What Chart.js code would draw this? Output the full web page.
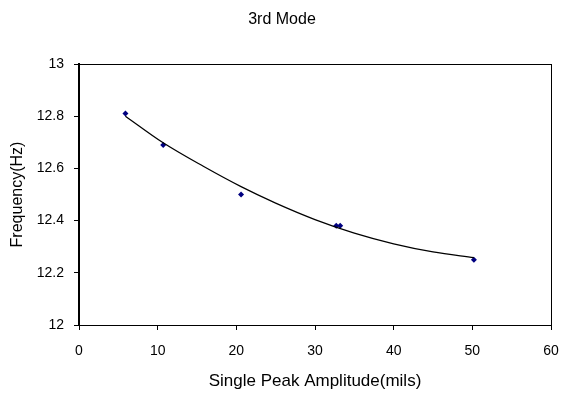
<!DOCTYPE html>
<html>
<head>
<meta charset="utf-8">
<script src="https://cdn.jsdelivr.net/npm/chart.js@4/dist/chart.umd.min.js"></script>
<style>
  html, body { margin: 0; padding: 0; background: #fff; }
  #wrap { width: 564px; height: 395px; }
</style>
</head>
<body>
<div id="wrap"><canvas id="grafico"></canvas></div>
<script>
// measured points
const amplitude = [5.9, 10.7, 20.6, 32.7, 33.2, 50.2];
const frequency = [12.81, 12.69, 12.50, 12.38, 12.38, 12.25];

// trend line
const trendX = [5.9, 10.7, 15.8, 20.6, 25, 30, 35, 40, 45, 50.2];
const trendY = [12.80, 12.698, 12.608, 12.53, 12.467, 12.404, 12.352, 12.311, 12.28, 12.258];

const fonte = "'Liberation Sans', Arial, sans-serif";

new Chart(document.getElementById("grafico"), {
    type: "scatter",
    data: {
        datasets: [
            {
                label: "Trend",
                type: "line",
                data: trendX.map((x, i) => ({ x: x, y: trendY[i] })),
                borderColor: "#000",
                borderWidth: 1.25,
                pointRadius: 0,
                cubicInterpolationMode: "monotone",
                fill: false
            },
            {
                label: "Frequency",
                data: amplitude.map((x, i) => ({ x: x, y: frequency[i] })),
                pointStyle: "rectRot",
                pointRadius: 3,
                backgroundColor: "#000080",
                borderColor: "#000080",
                borderWidth: 0
            }
        ]
    },
    options: {
        responsive: true,
        maintainAspectRatio: false,
        animation: false,
        layout: { padding: 0 },
        plugins: {
            legend: { display: false },
            tooltip: { enabled: false },
            title: {
                display: true,
                text: "3rd Mode",
                color: "#000",
                font: { family: fonte, size: 16, weight: "normal" },
                padding: { top: 10.4, bottom: 34.4 }
            }
        },
        scales: {
            x: {
                type: "linear",
                position: "bottom",
                min: 0, max: 60,
                afterFit: s => { s.height = 70; },
                // larger lineHeight pushes the labels down without widening the side padding
                ticks: { stepSize: 10, color: "#000", padding: 5, font: { family: fonte, size: 14, lineHeight: 2.34 } },
                grid: { drawOnChartArea: false, tickLength: 5, color: "#000" },
                border: { color: "#000", width: 1 },
                title: {
                    display: true,
                    text: "Single Peak Amplitude(mils)",
                    color: "#000",
                    font: { family: fonte, size: 17 },
                    padding: { top: 0, bottom: 3.8 }
                }
            },
            x2: {
                type: "linear",
                position: "top",
                min: 0, max: 60,
                afterFit: s => { s.height = 0; },
                ticks: { display: false },
                grid: { display: false },
                border: { color: "#000", width: 1 }
            },
            y: {
                type: "linear",
                position: "left",
                min: 12, max: 13,
                afterFit: s => { s.width = 79; },
                ticks: {
                    stepSize: 0.2, color: "#000", padding: 10,
                    font: { family: fonte, size: 14 },
                    callback: v => Number(v.toFixed(1)).toString()
                },
                grid: { drawOnChartArea: false, tickLength: 5, color: "#000" },
                border: { color: "#000", width: 2 },
                title: {
                    display: true,
                    text: "Frequency(Hz)",
                    color: "#000",
                    font: { family: fonte, size: 16 },
                    padding: { top: 8.4, bottom: 0 }
                }
            },
            y2: {
                type: "linear",
                position: "right",
                min: 12, max: 13,
                afterFit: s => { s.width = 13; },
                ticks: { display: false },
                grid: { display: false },
                border: { color: "#000", width: 1 }
            }
        }
    }
});
</script>
</body>
</html>
